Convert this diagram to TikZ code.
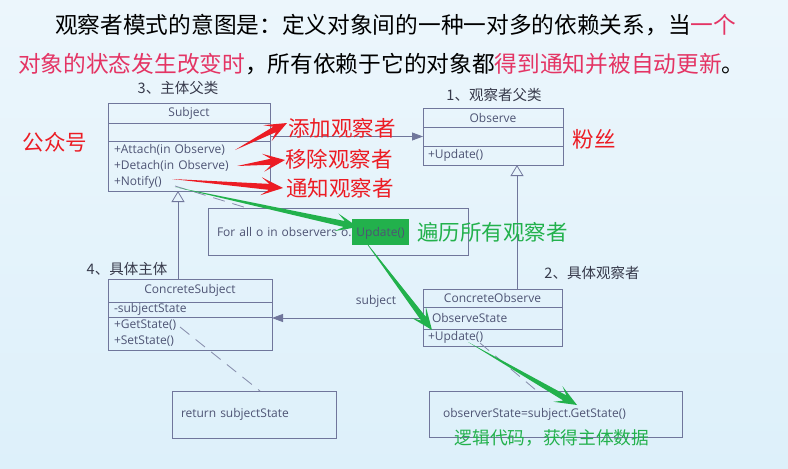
\documentclass[tikz,border=0pt]{standalone}
\usepackage{fontspec}
\newfontfamily\cjk{Noto Sans CJK SC}
\newfontfamily\umlfont{Open Sans}
\usetikzlibrary{
	arrows.meta,
	positioning,
	calc
}
\definecolor{umlline}{RGB}{112,118,155}
\definecolor{umltext}{RGB}{78,84,116}
\definecolor{notered}{RGB}{236,28,36}
\definecolor{notegreen}{RGB}{34,177,76}
\definecolor{titlepink}{RGB}{228,52,100}
\definecolor{labelgray}{RGB}{55,58,75}
\definecolor{bgtop}{RGB}{236,246,252}
\definecolor{bgbottom}{RGB}{221,240,250}
% tapered marker arrow: colour, tail, tip
\newcommand\markarrow[3]{%
  \fill[#1] (#2) -- ($(#3)!14pt!(#2)!3pt!90:(#2)$) -- ($(#3)!22pt!(#2)!9pt!90:(#2)$)
    -- (#3) -- ($(#3)!22pt!(#2)!9pt!-90:(#2)$) -- ($(#3)!14pt!(#2)!3pt!-90:(#2)$) -- cycle;}
\newcommand\hlbox[1]{{\setlength\fboxsep{0pt}\colorbox{notegreen}{\hspace{4pt}\rule[-8pt]{0pt}{26pt}#1\hspace{4pt}}}}

\begin{document}
\begin{tikzpicture}[x=1pt, y=-1pt,
  umlpart/.style={draw=umlline, line width=0.8pt, inner sep=0pt, outer sep=0pt,
    text=umltext, font=\umlfont\fontsize{12}{16}\selectfont},
  umlops/.style={umlpart, align=left, inner xsep=6pt, text width=#1},
  note/.style={draw=umlline, line width=0.8pt, anchor=north west, outer sep=0pt,
    text=umltext, font=\umlfont\fontsize{12}{14}\selectfont, align=left, inner ysep=0pt},
  classlbl/.style={text=labelgray, font=\cjk\fontsize{14.5}{17}\selectfont},
  remark/.style={text=notered, font=\cjk\fontsize{21.5}{25}\selectfont, inner sep=0pt},
  greenremark/.style={remark, text=notegreen},
  titleline/.style={anchor=west, inner sep=0pt, font=\cjk\fontsize{22.7}{27}\selectfont},
  inherit/.style={draw=umlline, line width=0.8pt, -{Triangle[open, length=11pt, width=13pt]}},
  assoc/.style={draw=umlline, line width=0.8pt, -{Triangle[length=11pt, width=8pt]}},
  depline/.style={draw=umlline!85, line width=0.8pt, dash pattern=on 12pt off 8pt}
]
\useasboundingbox (0,0) rectangle (788,469);
\shade[top color=bgtop, bottom color=bgbottom] (0,0) rectangle (788,469);

% title
\node[titleline] (title1) at (55,25) {观察者模式的意图是：定义对象间的一种一对多的依赖关系，当\textcolor{titlepink}{一个}};
\node[titleline] (title2) at (18,64) {\textcolor{titlepink}{对象的状态发生改变时}，所有依赖于它的对象都\textcolor{titlepink}{得到通知并被自动更新}。};

% Subject
\node[umlpart, minimum width=162pt, minimum height=20pt, anchor=north west] (subjhead) at (108,103) {Subject};
\node[umlpart, minimum width=162pt, minimum height=18pt, below=0pt of subjhead] (subjattr) {};
\node[umlops=150pt, minimum height=50pt, below=0pt of subjattr] (subjops) {+Attach(in Observe)\\+Detach(in Observe)\\+Notify()};
\node[classlbl] (subjlbl) at (178,88) {3、主体父类};

% Observe
\node[umlpart, minimum width=140pt, minimum height=19pt, anchor=north west] (obshead) at (423,108) {Observe};
\node[umlpart, minimum width=140pt, minimum height=19pt, below=0pt of obshead] (obsattr) {};
\node[umlops=130pt, inner xsep=5pt, minimum height=19pt, below=0pt of obsattr] (obsops) {+Update()};
\node[classlbl] (obslbl) at (494,95) {1、观察者父类};

% ConcreteSubject
\node[umlpart, minimum width=164pt, minimum height=23pt, anchor=north west] (csubjhead) at (108,279) {ConcreteSubject};
\node[umlops=152pt, minimum height=15pt, below=0pt of csubjhead] (csubjattr) {-subjectState};
\node[umlops=152pt, minimum height=33pt, below=0pt of csubjattr] (csubjops) {+GetState()\\+SetState()};
\node[classlbl] (csubjlbl) at (127,269) {4、具体主体};

% ConcreteObserve
\node[umlpart, minimum width=139pt, minimum height=18pt, anchor=north west] (cobshead) at (423,289) {ConcreteObserve};
\node[umlops=121pt, inner xsep=9pt, minimum height=22pt, below=0pt of cobshead] (cobsattr) {ObserveState};
\node[umlops=129pt, inner xsep=5pt, minimum height=17pt, below=0pt of cobsattr] (cobsops) {+Update()};
\node[classlbl] (cobslbl) at (592,273) {2、具体观察者};

% notes
\node[note, minimum width=260pt, minimum height=47pt, text width=242pt, inner xsep=9pt] (note1) at (208,208)
  {For all o in observers o.\hspace{1pt}\hlbox{Update()}};
\node[note, minimum width=164pt, minimum height=47pt, text width=146pt, inner xsep=9pt] (note2) at (172,391) {return subjectState};
\node[note, minimum width=253pt, minimum height=46pt, text width=225pt, inner xsep=14pt] (note3) at (429,391) {observerState=subject.GetState()};

% relations
\draw[assoc] (subjattr.east |- obsattr.west) -- (obsattr.west);
\draw[assoc] (cobsattr.west) -- (cobsattr.west -| csubjattr.east);
\node[umlpart, draw=none] (subjrole) at (376,301) {subject};
\draw[inherit] ([xshift=70pt]csubjhead.north west) -- ([xshift=70pt]subjops.south west);
\draw[inherit] ([xshift=94pt]cobshead.north west) -- ([xshift=94pt]obsops.south west);

\coordinate (notifyend) at (175,186);
\coordinate (getstateend) at (180,327);
\coordinate (updateend) at (480,343);
\draw[depline] (notifyend) -- ([xshift=39pt]note1.north west);
\draw[depline] (getstateend) -- ([xshift=88pt]note2.north west);
\draw[depline] (updateend) -- ([xshift=108pt]note3.north west);

% remarks
\node[remark] (fans0) at (55,142) {公众号};
\node[remark] (addlbl) at (342,128) {添加观察者};
\node[remark] (dellbl) at (339,159) {移除观察者};
\node[remark] (notlbl) at (340,188) {通知观察者};
\node[remark] (fanslbl) at (594,139) {粉丝};
\node[greenremark, anchor=west] (looplbl) at (417,232) {遍历所有观察者};
\node[greenremark, font=\cjk\fontsize{17.7}{21}\selectfont] (logiclbl) at (552,438) {逻辑代码，获得主体数据};

% marker arrows
\coordinate (attachtail) at (235,150);  \coordinate (addtip) at (287,123);
\coordinate (detachtail) at (237,166);  \coordinate (deltip) at (285,160);
\coordinate (notifytail) at (172,179);  \coordinate (nottip) at (283,188);
\markarrow{notered}{attachtail}{addtip}
\markarrow{notered}{detachtail}{deltip}
\markarrow{notered}{notifytail}{nottip}

\coordinate (loopA) at (175,187);  \coordinate (loopB) at (358,227);
\coordinate (callA) at (362,237);  \coordinate (callB) at (432,330);
\coordinate (pullA) at (468,342);  \coordinate (pullB) at (577,405);
\markarrow{notegreen}{loopA}{loopB}
\markarrow{notegreen}{callA}{callB}
\markarrow{notegreen}{pullA}{pullB}
\end{tikzpicture}
\end{document}
